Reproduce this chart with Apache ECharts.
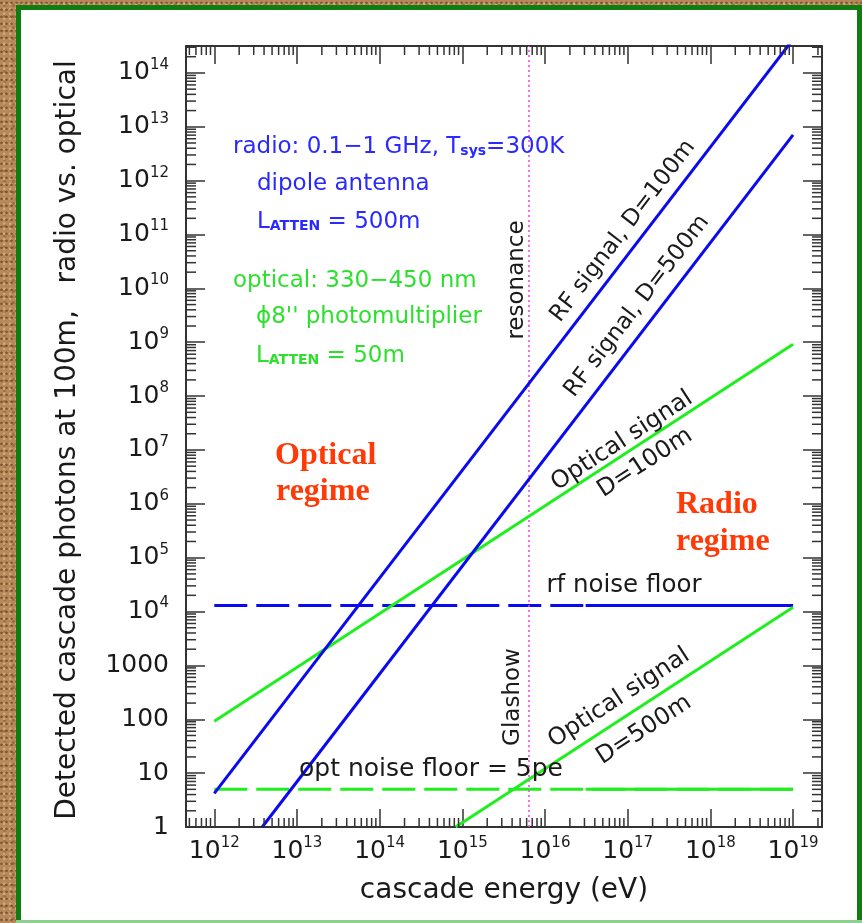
<!DOCTYPE html>
<html><head><meta charset="utf-8">
<script src="https://cdn.jsdelivr.net/npm/echarts@6/dist/echarts.min.js"></script>
<style>
html,body{margin:0;padding:0;width:862px;height:923px;overflow:hidden;}
body{background-color:#b6885a;
background-image:
 radial-gradient(circle at 30% 40%, rgba(80,45,15,.55) 0.9px, transparent 1.6px),
 radial-gradient(circle at 70% 75%, rgba(235,200,150,.55) 0.9px, transparent 1.6px),
 radial-gradient(circle at 50% 50%, rgba(120,75,35,.4) 1px, transparent 2px);
background-size:5px 7px, 6px 5px, 9px 11px;}
#chart{width:862px;height:923px;position:absolute;left:0;top:0;}
</style></head><body><div id="chart"></div><script>
// ---------- data ----------
const xRange = [Math.pow(10, 11.658), Math.pow(10, 19.35)];   // cascade energy (eV)
const yRange = [1, Math.pow(10, 14.5)];                       // detected photons
const rfSignal100  = [[1e12, 4.2], [1e19, 4.2e14]];
const rfSignal500  = [[3.8e12, 1], [1e19, 7.1e12]];
const optSignal100 = [[1e12, 92], [1e19, 9.2e8]];
const optSignal500 = [[8.3e14, 1], [1e19, 1.2e4]];
const rfNoiseFloor  = [[1e12, 1.3e4], [1e19, 1.3e4]];
const optNoiseFloor = [[1e12, 5], [1e19, 5]];
const noiseSolidFrom = 3.1e16;      // floors drawn solid beyond this energy
const glashowEnergy = 6.4e15;
const yLowLabels = ['1', '10', '100', '1000'];

// ---------- helpers ----------
const FONT = '"DejaVu Sans", sans-serif';
const BLUE = '#0a0aee', GREEN = '#1fee1f', TBLUE = '#2a2aff', TGREEN = '#2de02d', INK = '#1a1a1a';
const RED = '#ff3a06';
function expOf(v) { const e = Math.log10(v); const r = Math.round(e); return Math.abs(e - r) < 1e-6 ? r : null; }
function xLabel(v) { const r = expOf(v); return r === null ? '' : '{b|10}{s|' + r + '}'; }
function yLabel(v) { const r = expOf(v); if (r === null) return ''; if (r <= 3) return '{b|' + yLowLabels[r] + '}'; return '{b|10}{s|' + r + '}'; }
const labelRich = {
  b: { fontSize: 25, fontFamily: FONT, color: INK },
  s: { fontSize: 15, fontFamily: FONT, color: INK, padding: [0, 0, 16, 0] }
};
const xMinor = [], yMinor = [];
for (let n = 11; n <= 19; n++) for (let k = 2; k <= 9; k++) { const v = k * Math.pow(10, n); if (v > xRange[0] && v < xRange[1]) xMinor.push(v); }
for (let n = 0; n <= 14; n++) for (let k = 2; k <= 9; k++) { const v = k * Math.pow(10, n); if (v > yRange[0] && v < yRange[1]) yMinor.push(v); }

const axisLineStyle = { color: '#333', width: 2 };
const tickStyle = { color: '#333', width: 1.5 };
function mkX(pos, showLabel) {
  return { type: 'log', logBase: 10, min: xRange[0], max: xRange[1], position: pos,
    axisLine: { show: true, onZero: false, lineStyle: axisLineStyle },
    axisTick: { show: true, inside: true, length: 18, lineStyle: tickStyle },
    minorTick: { show: false }, splitLine: { show: false },
    axisLabel: { show: showLabel, formatter: xLabel, margin: 9, rich: labelRich, hideOverlap: false } };
}
function mkY(pos, showLabel) {
  return { type: 'log', logBase: 10, min: yRange[0], max: yRange[1], interval: 1, position: pos,
    axisLine: { show: true, onZero: false, lineStyle: axisLineStyle },
    axisTick: { show: true, inside: true, length: 19, lineStyle: tickStyle },
    minorTick: { show: false }, splitLine: { show: false },
    axisLabel: { show: showLabel, formatter: yLabel, margin: 17, rich: labelRich, hideOverlap: false } };
}
function lineSeries(name, data, color, type, width) {
  return { name, type: 'line', data, symbol: 'none', silent: true, clip: true, animation: false,
    lineStyle: { color, width: width || 3, type: type || 'solid' }, z: 3 };
}
function txt(text, x, y, opt) {
  opt = opt || {};
  return { type: 'text', x, y, rotation: (opt.rot || 0) * Math.PI / 180, z: 100, silent: true,
    style: { text, fill: opt.color || INK, fontSize: opt.size || 23, fontFamily: opt.family || FONT,
      fontWeight: opt.weight || 'normal', align: opt.align || 'center', verticalAlign: 'middle', rich: opt.rich } };
}
const subRich = (color) => ({
  a: { fontSize: 23, fontFamily: FONT, color },
  s: { fontSize: 14, fontFamily: FONT, color, fontWeight: 'bold', padding: [9, 0, 0, 0] }
});

const chart = echarts.init(document.getElementById('chart'), null, { renderer: 'canvas' });
const option = {
  animation: false,
  backgroundColor: 'transparent',
  grid: { left: 186, top: 46, width: 636, height: 781, containLabel: false },
  xAxis: [mkX('bottom', true), mkX('top', false)],
  yAxis: [mkY('left', true), mkY('right', false)],
  series: [
    lineSeries('rf noise floor', rfNoiseFloor, BLUE, [33, 9]),
    lineSeries('rf noise floor solid', [[noiseSolidFrom, rfNoiseFloor[0][1]], rfNoiseFloor[1]], BLUE),
    lineSeries('opt noise floor', optNoiseFloor, GREEN, [33, 9]),
    lineSeries('opt noise floor solid', [[noiseSolidFrom, optNoiseFloor[0][1]], optNoiseFloor[1]], GREEN),
    lineSeries('Glashow resonance', [[glashowEnergy, yRange[0]], [glashowEnergy, yRange[1]]], '#f040f0', [2, 3], 1.5),
    lineSeries('Optical signal, D=100m', optSignal100, GREEN),
    lineSeries('Optical signal, D=500m', optSignal500, GREEN),
    lineSeries('RF signal, D=100m', rfSignal100, BLUE),
    lineSeries('RF signal, D=500m', rfSignal500, BLUE),
    { type: 'custom', silent: true, animation: false, z: 4, data: xMinor.map(v => [v, yRange[0]]),
      renderItem: (p, api) => { const v = api.value(0); const b = api.coord([v, yRange[0]]); const t = api.coord([v, yRange[1]]);
        return { type: 'group', children: [
          { type: 'line', shape: { x1: b[0], y1: b[1], x2: b[0], y2: b[1] - 9 }, style: { stroke: '#333', lineWidth: 1.5 } },
          { type: 'line', shape: { x1: t[0], y1: t[1], x2: t[0], y2: t[1] + 9 }, style: { stroke: '#333', lineWidth: 1.5 } } ] }; } },
    { type: 'custom', silent: true, animation: false, z: 4, data: yMinor.map(v => [xRange[0], v]),
      renderItem: (p, api) => { const v = api.value(1); const l = api.coord([xRange[0], v]); const r = api.coord([xRange[1], v]);
        return { type: 'group', children: [
          { type: 'line', shape: { x1: l[0], y1: l[1], x2: l[0] + 10, y2: l[1] }, style: { stroke: '#333', lineWidth: 1.5 } },
          { type: 'line', shape: { x1: r[0], y1: r[1], x2: r[0] - 10, y2: r[1] }, style: { stroke: '#333', lineWidth: 1.5 } } ] }; } }
  ],
  graphic: [
    { type: 'rect', z: -20, silent: true, shape: { x: 16, y: 5, width: 846, height: 918 }, style: { fill: '#0f7d12' } },
    { type: 'rect', z: -19, silent: true, shape: { x: 16, y: 920, width: 846, height: 3 }, style: { fill: '#8fcf8f' } },
    { type: 'rect', z: -18, silent: true, shape: { x: 21, y: 10, width: 836, height: 910 }, style: { fill: '#ffffff' } },
    txt('Detected cascade photons at 100m,   radio vs. optical', 68, 440, { rot: 90, size: 28 }),
    txt('cascade energy (eV)', 504, 891, { size: 28 }),
    txt('{a|radio: 0.1\u22121 GHz, T}{s|sys}{a|=300K}', 233, 147, { align: 'left', rich: subRich(TBLUE), color: TBLUE }),
    txt('dipole antenna', 257, 184, { align: 'left', color: TBLUE }),
    txt('{a|L}{s|ATTEN}{a| = 500m}', 257, 222, { align: 'left', rich: subRich(TBLUE), color: TBLUE }),
    txt('optical: 330\u2212450 nm', 233, 281, { align: 'left', color: TGREEN }),
    txt('\u03D58\'\' photomultiplier', 256, 317, { align: 'left', color: TGREEN }),
    txt('{a|L}{s|ATTEN}{a| = 50m}', 256, 356, { align: 'left', rich: subRich(TGREEN), color: TGREEN }),
    txt('resonance', 517, 280, { rot: 90 }),
    txt('Glashow', 513, 697, { rot: 90 }),
    txt('RF signal, D=100m', 623, 231, { rot: 52.5 }),
    txt('RF signal, D=500m', 637, 306, { rot: 52.5 }),
    txt('Optical signal', 622, 441, { rot: 33, size: 24 }),
    txt('D=100m', 645, 463, { rot: 33, size: 24 }),
    txt('Optical signal', 619, 698, { rot: 33, size: 24 }),
    txt('D=500m', 644, 730, { rot: 33, size: 24 }),
    txt('rf noise floor', 624, 586, { size: 24.5 }),
    txt('opt noise floor = 5pe', 431, 769, { size: 25 }),
    txt('Optical', 275, 456, { align: 'left', size: 32, weight: 'bold', family: '"Liberation Serif", "Times New Roman", serif', color: RED }),
    txt('regime', 276, 492, { align: 'left', size: 32, weight: 'bold', family: '"Liberation Serif", "Times New Roman", serif', color: RED }),
    txt('Radio', 676, 505, { align: 'left', size: 32, weight: 'bold', family: '"Liberation Serif", "Times New Roman", serif', color: RED }),
    txt('regime', 676, 542, { align: 'left', size: 32, weight: 'bold', family: '"Liberation Serif", "Times New Roman", serif', color: RED })
  ]
};
chart.setOption(option);
</script></body></html>
